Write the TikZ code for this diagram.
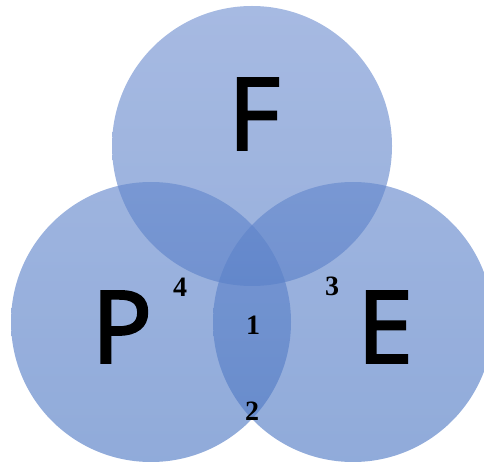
\documentclass[tikz,border=0pt]{standalone}
\usepackage{fontspec}
\newfontfamily\setfont{Open Sans}[FakeBold=2.5]
\setmainfont{Liberation Serif}
\definecolor{vennTop}{RGB}{112,143,208}
\definecolor{vennBot}{RGB}{76,119,195}
\tikzset{
  set/.style={fill opacity=0.62, draw=none},
  setname/.style={font=\setfont\fontsize{100}{100}\selectfont, inner sep=0pt},
  region/.style={font=\rmfamily\bfseries\fontsize{28}{28}\selectfont, inner sep=0pt}
}
\begin{document}
\begin{tikzpicture}[x=1pt, y=-1pt]
    \useasboundingbox (0,0) rectangle (484,462);
    \clip (0,0) rectangle (484,462);
    % 1. Tâm các tập hợp
    \coordinate (cF) at (252,146);
    \coordinate (cP) at (151,322);
    \coordinate (cE) at (353,322);

    % 2. Vẽ ba đường tròn
    \shade[set, top color=vennTop, bottom color=vennTop!38!vennBot] (cF) circle (140);
    \shade[set, top color=vennTop!61!vennBot, bottom color=vennBot] (cP) circle (140);
    \shade[set, top color=vennTop!61!vennBot, bottom color=vennBot] (cE) circle (140);

    % 3. Tên các tập hợp
    \node[setname] (F) at (254,114) {F};
    \node[setname] (P) at (122,327) {P};
    \node[setname] (E) at (385,327) {E};

    % 4. Đánh số các miền
    \node[region] (r1) at (253,325) {1};
    \node[region] (r2) at (252,411) {2};
    \node[region] (r3) at (332,286) {3};
    \node[region] (r4) at (180,287) {4};
\end{tikzpicture}
\end{document}
